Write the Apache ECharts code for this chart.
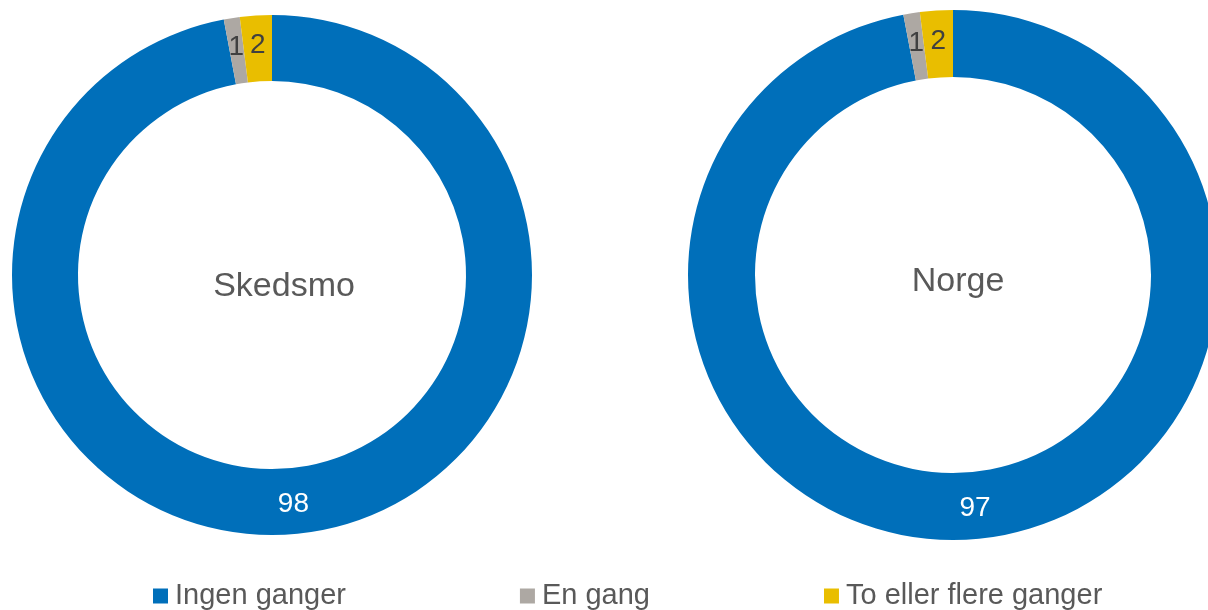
<!DOCTYPE html>
<html>
<head>
<meta charset="utf-8">
<script src="https://cdn.jsdelivr.net/npm/echarts@6/dist/echarts.min.js"></script>
<style>
html,body{margin:0;padding:0;background:#fff;}
#c{width:1208px;height:610px;}
</style>
</head>
<body>
<div id="c"></div>
<script>
var categories = ['Ingen ganger', 'En gang', 'To eller flere ganger'];
var groups = ['Skedsmo', 'Norge'];
var skedsmoValues = [98, 1, 2];
var norgeValues = [97, 1, 2];
var colors = ['#006FBA', '#ADA8A3', '#E9BE00'];

var chart = echarts.init(document.getElementById('c'), null, {renderer: 'canvas'});

function makeData(vals) {
  return categories.map(function (name, i) {
    return {
      name: name,
      value: vals[i],
      itemStyle: {color: colors[i]},
      label: {color: i === 0 ? '#ffffff' : '#404040'}
    };
  });
}

var font = 'Liberation Sans, Arial, sans-serif';

chart.setOption({
  animation: false,
  backgroundColor: '#ffffff',
  title: [
    {text: groups[0], left: 279, top: 282, textAlign: 'center', textVerticalAlign: 'middle',
     textStyle: {fontSize: 34, fontWeight: 'normal', color: '#595959', fontFamily: font}},
    {text: groups[1], left: 953, top: 277, textAlign: 'center', textVerticalAlign: 'middle',
     textStyle: {fontSize: 34, fontWeight: 'normal', color: '#595959', fontFamily: font}}
  ],
  legend: {
    data: categories,
    left: 148,
    top: 575,
    icon: 'rect',
    itemWidth: 15,
    itemHeight: 15,
    itemGap: 174,
    textStyle: {fontSize: 29, lineHeight: 32, color: '#595959', fontFamily: font, padding: [0, 0, 0, 2]}
  },
  series: [
    {
      type: 'pie',
      name: groups[0],
      center: [272, 275],
      radius: [194, 260],
      startAngle: 90,
      clockwise: true,
      avoidLabelOverlap: false,
      label: {show: true, position: 'inside', formatter: '{c}', fontSize: 28, fontFamily: font},
      labelLine: {show: false},
      itemStyle: {borderWidth: 0},
      emphasis: {disabled: true},
      data: makeData(skedsmoValues)
    },
    {
      type: 'pie',
      name: groups[1],
      center: [953, 275],
      radius: [198, 265],
      startAngle: 90,
      clockwise: true,
      avoidLabelOverlap: false,
      label: {show: true, position: 'inside', formatter: '{c}', fontSize: 28, fontFamily: font},
      labelLine: {show: false},
      itemStyle: {borderWidth: 0},
      emphasis: {disabled: true},
      data: makeData(norgeValues)
    }
  ]
});
</script>
</body>
</html>
